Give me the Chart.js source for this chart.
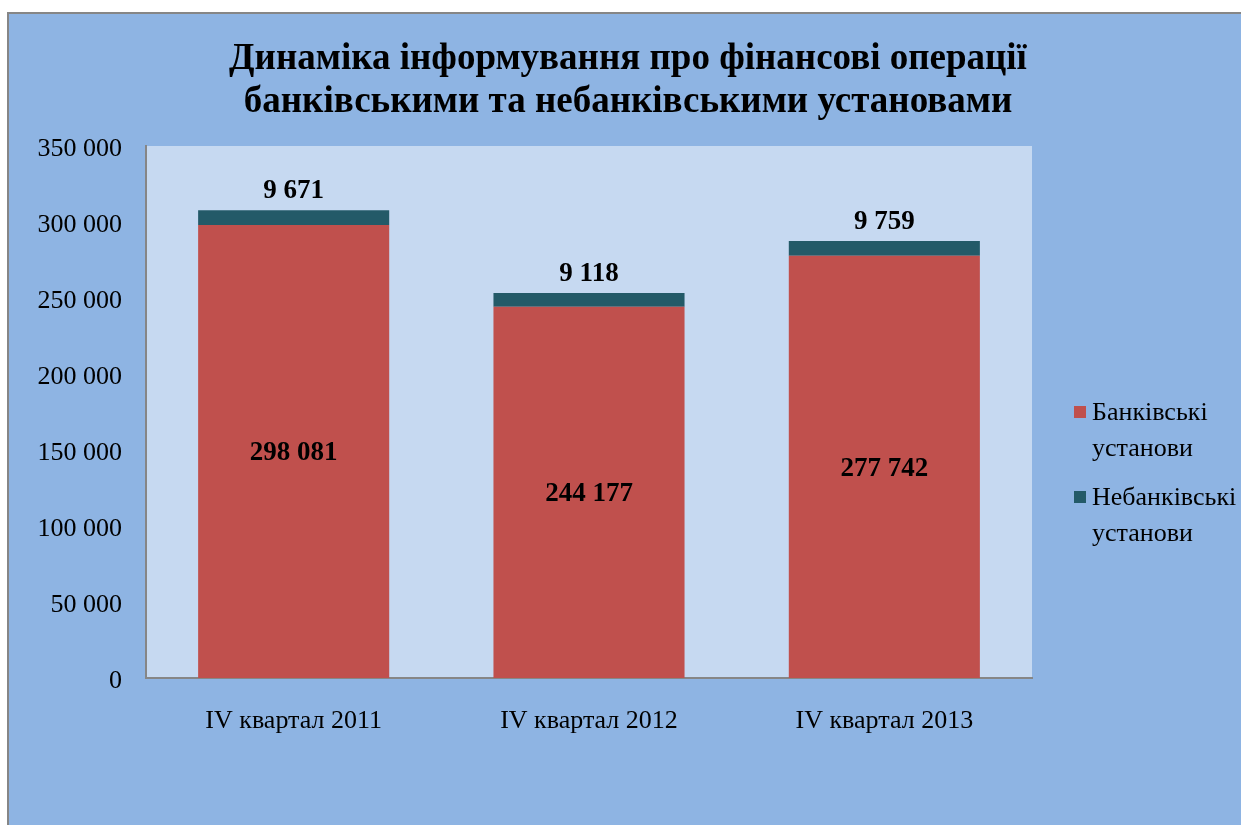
<!DOCTYPE html>
<html>
<head>
<meta charset="utf-8">
<script src="https://cdn.jsdelivr.net/npm/chart.js@4"></script>
<style>
  body { margin: 0; background: #ffffff; }
  canvas { display: block; }
</style>
</head>
<body>
<canvas id="chartFinOps" width="1241" height="825"></canvas>
<script>
// categories and values
const categories = ['IV квартал 2011', 'IV квартал 2012', 'IV квартал 2013'];
const bankValues = [298081, 244177, 277742];
const nonBankValues = [9671, 9118, 9759];
const seriesNames = ['Банківські установи', 'Небанківські установи'];
const legendLines = [['Банківські', 'установи'], ['Небанківські', 'установи']];
const titleLines = ['Динаміка інформування про фінансові операції', 'банківськими та небанківськими установами'];
const yTicks = [0, 50000, 100000, 150000, 200000, 250000, 300000, 350000];

const serif = 'Liberation Serif, Times New Roman, serif';
const bankColor = '#C0504D';
const nonBankColor = '#235A68';

// thousands with a space, like "298 081"
const fmt = (v) => String(v).replace(/\B(?=(\d{3})+(?!\d))/g, ' ');

// background: white page, blue chart box with gray border, light plot area
const backgroundPlugin = {
  id: 'background',
  beforeDraw(chart) {
    const { ctx, chartArea } = chart;
    ctx.save();
    ctx.fillStyle = '#ffffff';
    ctx.fillRect(0, 0, chart.width, chart.height);
    ctx.fillStyle = '#8EB4E3';
    ctx.fillRect(7, 12, chart.width, chart.height);
    ctx.strokeStyle = '#868686';
    ctx.lineWidth = 2;
    ctx.beginPath();
    ctx.moveTo(8, chart.height + 2);
    ctx.lineTo(8, 13);
    ctx.lineTo(chart.width + 2, 13);
    ctx.stroke();
    ctx.fillStyle = '#C6D9F1';
    ctx.fillRect(chartArea.left, chartArea.top, chartArea.right - chartArea.left, chartArea.bottom - chartArea.top);
    ctx.restore();
  },
};

// title and right-hand legend with wrapped labels
const titleLegendPlugin = {
  id: 'titleLegend',
  afterDraw(chart) {
    const { ctx } = chart;
    ctx.save();
    ctx.fillStyle = '#000000';
    ctx.textAlign = 'center';
    ctx.textBaseline = 'middle';
    ctx.font = 'bold 37px ' + serif;
    titleLines.forEach((line, i) => ctx.fillText(line, 628, 59 + i * 43));

    ctx.font = '26px ' + serif;
    ctx.textAlign = 'left';
    const legendTop = [413, 498];
    chart.data.datasets.forEach((ds, i) => {
      ctx.fillStyle = ds.backgroundColor;
      ctx.fillRect(1074, legendTop[i] - 7, 12, 12);
      ctx.fillStyle = '#000000';
      legendLines[i].forEach((line, j) => ctx.fillText(line, 1092, legendTop[i] + j * 36));
    });
    ctx.restore();
  },
};

// value labels: bank values in the middle, non-bank values above the stack
const valueLabelsPlugin = {
  id: 'valueLabels',
  afterDatasetsDraw(chart) {
    const { ctx } = chart;
    ctx.save();
    ctx.font = 'bold 27px ' + serif;
    ctx.fillStyle = '#000000';
    ctx.textAlign = 'center';
    ctx.textBaseline = 'middle';
    chart.getDatasetMeta(0).data.forEach((bar, i) => {
      ctx.fillText(fmt(bankValues[i]), bar.x, (bar.y + bar.base) / 2 + 2);
    });
    chart.getDatasetMeta(1).data.forEach((bar, i) => {
      ctx.fillText(fmt(nonBankValues[i]), bar.x, bar.y - 19);
    });
    ctx.restore();
  },
};

const dataFinOps = {
  labels: categories,
  datasets: [
    {
      label: seriesNames[0],
      data: bankValues,
      backgroundColor: bankColor,
      borderWidth: 0,
      categoryPercentage: 1,
      barPercentage: 0.647,
    },
    {
      label: seriesNames[1],
      data: nonBankValues,
      backgroundColor: nonBankColor,
      borderWidth: 0,
      categoryPercentage: 1,
      barPercentage: 0.647,
    },
  ],
};

const configFinOps = {
  type: 'bar',
  data: dataFinOps,
  options: {
    responsive: false,
    animation: false,
    layout: { padding: { left: 8, right: 209, top: 146, bottom: 0 } },
    plugins: {
      legend: { display: false },
      title: { display: false },
      tooltip: { enabled: false },
    },
    scales: {
      x: {
        stacked: true,
        grid: { display: false, drawTicks: false },
        border: { display: true, color: '#868686', width: 2 },
        ticks: { color: '#000000', padding: 28, font: { size: 26, family: serif } },
        afterFit: (scale) => { scale.height = 825 - 678; },
      },
      y: {
        stacked: true,
        min: 0,
        max: 350000,
        grid: { display: false, drawTicks: false },
        border: { display: true, color: '#868686', width: 2 },
        afterBuildTicks: (scale) => { scale.ticks = yTicks.map((v) => ({ value: v })); },
        ticks: {
          color: '#000000',
          padding: 24,
          labelOffset: 3,
          font: { size: 26, family: serif },
          callback: (v) => fmt(v),
        },
        afterFit: (scale) => { scale.width = 146 - 8; },
      },
    },
  },
  plugins: [backgroundPlugin, valueLabelsPlugin, titleLegendPlugin],
};

new Chart(document.getElementById('chartFinOps').getContext('2d'), configFinOps);
</script>
</body>
</html>
